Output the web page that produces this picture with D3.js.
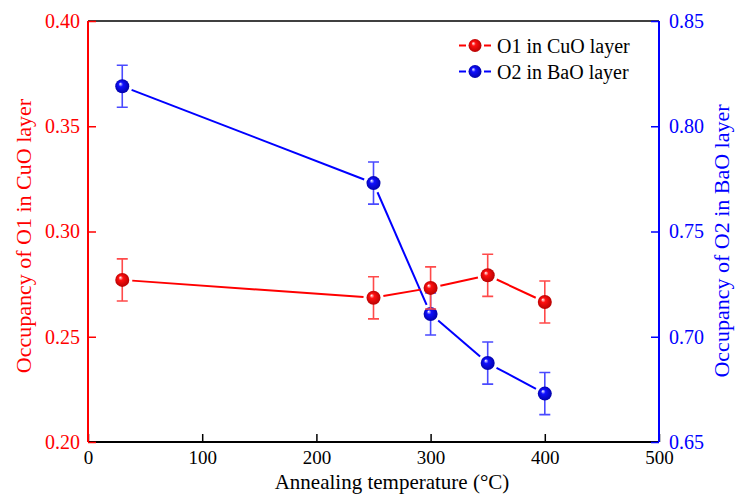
<!DOCTYPE html>
<html>
<head>
<meta charset="utf-8">
<script src="https://cdn.jsdelivr.net/npm/d3@7"></script>
<style>
  body { margin: 0; background: #fff; }
  svg { display: block; font-family: "Liberation Serif", "Times New Roman", serif; }
</style>
</head>
<body>
<svg id="chart" width="735" height="498"></svg>
<script>
// data
const temps = [30, 250, 300, 350, 400];
const o1 = [0.277, 0.2685, 0.2732, 0.2792, 0.2665];
const o1Err = [0.010, 0.010, 0.010, 0.010, 0.010];
const o2 = [0.819, 0.773, 0.7108, 0.6875, 0.673];
const o2Err = [0.010, 0.010, 0.010, 0.010, 0.010];

const xTicks = [0, 100, 200, 300, 400, 500];
const yLeftTicks = [0.20, 0.25, 0.30, 0.35, 0.40];
const yRightTicks = [0.65, 0.70, 0.75, 0.80, 0.85];

const svg = d3.select("#chart");
const m = { left: 88, right: 659, top: 21, bottom: 442 };

const x = d3.scaleLinear().domain([0, 500]).range([m.left, m.right]);
const yL = d3.scaleLinear().domain([0.2, 0.4]).range([m.bottom, m.top]);
const yR = d3.scaleLinear().domain([0.65, 0.85]).range([m.bottom, m.top]);

// sphere gradients
const defs = svg.append("defs");
function sphere(id, base, dark) {
    const g = defs.append("radialGradient").attr("id", id)
        .attr("cx", "0.5").attr("cy", "0.5").attr("r", "0.55")
        .attr("fx", "0.35").attr("fy", "0.32");
    g.append("stop").attr("offset", "0").attr("stop-color", "#ffffff");
    g.append("stop").attr("offset", "0.3").attr("stop-color", base);
    g.append("stop").attr("offset", "1").attr("stop-color", dark);
}
sphere("gRed", "#ff1010", "#b00000");
sphere("gBlue", "#1010ff", "#0000a0");

// top frame line
svg.append("line").attr("x1", m.left).attr("x2", m.right).attr("y1", m.top).attr("y2", m.top)
    .attr("stroke", "#000").attr("stroke-width", 1.5);

// x axis (ticks inward)
const xAxis = svg.append("g").attr("transform", `translate(0,${m.bottom})`);
xAxis.call(d3.axisBottom(x).tickValues(d3.range(50, 500, 100)).tickSize(-4).tickFormat(""))
    .call(g => g.select(".domain").remove());
xAxis.call(d3.axisBottom(x).tickValues(xTicks).tickSize(-8).tickPadding(9))
    .call(g => g.select(".domain").attr("d", `M${m.left},0H${m.right}`).attr("stroke-width", 2));
xAxis.selectAll("line").attr("stroke", "#000").attr("stroke-width", 1.5);
xAxis.selectAll("text").attr("font-size", 19).attr("font-family", "Liberation Serif").attr("fill", "#000");

// left axis
const yAxisL = svg.append("g").attr("transform", `translate(${m.left},0)`);
yAxisL.call(d3.axisLeft(yL).tickValues(d3.range(0.225, 0.4, 0.05)).tickSize(-4).tickFormat(""))
    .call(g => g.select(".domain").remove());
yAxisL.call(d3.axisLeft(yL).tickValues(yLeftTicks).tickSize(-8).tickPadding(8).tickFormat(d3.format(".2f")))
    .call(g => g.select(".domain").attr("d", `M0,${m.top}V${m.bottom}`).attr("stroke-width", 2));
yAxisL.selectAll("line, path").attr("stroke", "#ff0000");
yAxisL.selectAll("line").attr("stroke-width", 1.5);
yAxisL.selectAll("text").attr("font-size", 20).attr("font-family", "Liberation Serif").attr("fill", "#ff0000");

// right axis
const yAxisR = svg.append("g").attr("transform", `translate(${m.right},0)`);
yAxisR.call(d3.axisRight(yR).tickValues(d3.range(0.675, 0.85, 0.05)).tickSize(-4).tickFormat(""))
    .call(g => g.select(".domain").remove());
yAxisR.call(d3.axisRight(yR).tickValues(yRightTicks).tickSize(-8).tickPadding(10).tickFormat(d3.format(".2f")))
    .call(g => g.select(".domain").attr("d", `M0,${m.top}V${m.bottom}`).attr("stroke-width", 2));
yAxisR.selectAll("line, path").attr("stroke", "#0000ff");
yAxisR.selectAll("line").attr("stroke-width", 1.5);
yAxisR.selectAll("text").attr("font-size", 20).attr("font-family", "Liberation Serif").attr("fill", "#0000ff");

// axis titles
svg.append("text").attr("x", 392).attr("y", 489)
    .attr("text-anchor", "middle").attr("font-size", 21).text("Annealing temperature (°C)");
svg.append("text").attr("transform", "translate(31,236) rotate(-90)")
    .attr("text-anchor", "middle").attr("font-size", 22).attr("fill", "#ff0000")
    .text("Occupancy of O1 in CuO layer");
svg.append("text").attr("transform", "translate(729,241) rotate(-90)")
    .attr("text-anchor", "middle").attr("font-size", 22).attr("fill", "#0000ff")
    .text("Occupancy of O2 in BaO layer");

const R = 7, GAP = 3;

function series(vals, errs, y, color, errColor, grad) {
    const pts = temps.map((t, i) => [x(t), y(vals[i])]);
    const g = svg.append("g");
    // connecting segments, cut short near the markers
    for (let i = 0; i < pts.length - 1; i++) {
        const [x1, y1] = pts[i], [x2, y2] = pts[i + 1];
        const len = Math.hypot(x2 - x1, y2 - y1);
        const ux = (x2 - x1) / len, uy = (y2 - y1) / len, d = R + GAP;
        g.append("line")
            .attr("x1", x1 + ux * d).attr("y1", y1 + uy * d)
            .attr("x2", x2 - ux * d).attr("y2", y2 - uy * d)
            .attr("stroke", color).attr("stroke-width", 2);
    }
    // error bars
    temps.forEach((t, i) => {
        const cx = x(t), top = y(vals[i] + errs[i]), bot = y(vals[i] - errs[i]);
        g.append("path")
            .attr("d", `M${cx},${top}V${bot}M${cx - 5.5},${top}H${cx + 5.5}M${cx - 5.5},${bot}H${cx + 5.5}`)
            .attr("stroke", errColor).attr("stroke-width", 1.6).attr("fill", "none");
    });
    g.selectAll("circle").data(pts).join("circle")
        .attr("cx", d => d[0]).attr("cy", d => d[1]).attr("r", R)
        .attr("fill", `url(#${grad})`);
}

series(o2, o2Err, yR, "#0000ff", "#4a4aff", "gBlue");
series(o1, o1Err, yL, "#ff0000", "#ff4a4a", "gRed");

// legend
const legend = svg.append("g");
const legendItems = [
    { label: "O1 in CuO layer", color: "#ff0000", grad: "gRed" },
    { label: "O2 in BaO layer", color: "#0000ff", grad: "gBlue" }
];
legendItems.forEach((d, i) => {
    const ly = 45.5 + i * 26;
    legend.append("line").attr("x1", 459).attr("x2", 466).attr("y1", ly).attr("y2", ly)
        .attr("stroke", d.color).attr("stroke-width", 2);
    legend.append("line").attr("x1", 484).attr("x2", 491).attr("y1", ly).attr("y2", ly)
        .attr("stroke", d.color).attr("stroke-width", 2);
    legend.append("circle").attr("cx", 475).attr("cy", ly).attr("r", 6.5).attr("fill", `url(#${d.grad})`);
    legend.append("text").attr("x", 497).attr("y", ly).attr("dy", "0.35em")
        .attr("font-size", 20).text(d.label);
});
</script>
</body>
</html>
